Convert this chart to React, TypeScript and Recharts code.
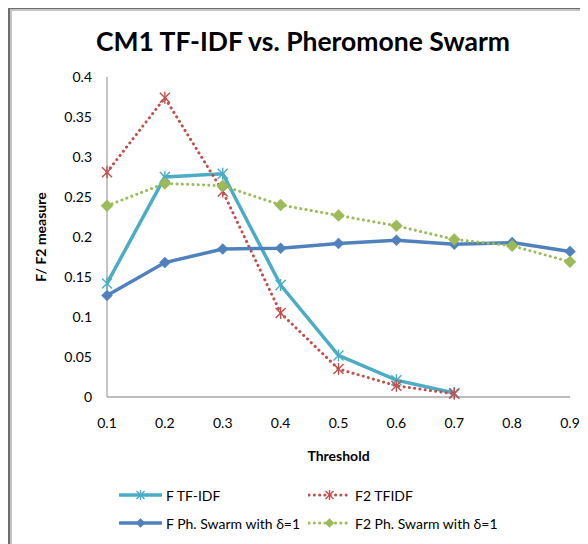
import React from "react";
import { LineChart, Line, XAxis, YAxis, Legend } from "recharts";

const thresholds = ["0.1", "0.2", "0.3", "0.4", "0.5", "0.6", "0.7", "0.8", "0.9"];
const fTfIdf = [0.142, 0.275, 0.279, 0.14, 0.052, 0.021, 0.005, null, null];
const f2Tfidf = [0.281, 0.374, 0.257, 0.105, 0.035, 0.014, 0.004, null, null];
const fPhSwarm = [0.127, 0.168, 0.185, 0.186, 0.192, 0.196, 0.191, 0.193, 0.182];
const f2PhSwarm = [0.239, 0.267, 0.264, 0.24, 0.227, 0.214, 0.197, 0.189, 0.169];
const yTicks = [0, 0.05, 0.1, 0.15, 0.2, 0.25, 0.3, 0.35, 0.4];

const seriesNames = ["F TF-IDF", "F2 TFIDF", "F Ph. Swarm with \u03b4=1", "F2 Ph. Swarm with \u03b4=1"];

const data = thresholds.map((t, i) => ({
  t,
  a: fTfIdf[i],
  b: f2Tfidf[i],
  c: fPhSwarm[i],
  d: f2PhSwarm[i],
}));

const FONT = "Lato, 'Open Sans', sans-serif";
const TEAL = "#4bacc6";
const RED = "#c0504d";
const BLUE = "#4f81bd";
const GREEN = "#9bbb59";

const Star = ({ cx, cy, color, r = 5 }: any) => {
  if (cx == null || cy == null || isNaN(cx) || isNaN(cy)) return null;
  return (
    <g stroke={color} strokeWidth={1.4} fill="none">
      <line x1={cx - r} y1={cy - r} x2={cx + r} y2={cy + r} />
      <line x1={cx - r} y1={cy + r} x2={cx + r} y2={cy - r} />
      <line x1={cx} y1={cy - r - 1} x2={cx} y2={cy + r + 1} />
    </g>
  );
};

const Diamond = ({ cx, cy, color, r = 6 }: any) => {
  if (cx == null || cy == null || isNaN(cx) || isNaN(cy)) return null;
  return (
    <path
      d={`M${cx},${cy - r} L${cx + r},${cy} L${cx},${cy + r} L${cx - r},${cy} Z`}
      fill={color}
      stroke={color}
      strokeWidth={0.5}
    />
  );
};

const starDot = (color: string) => (p: any) => <Star key={`s${color}${p.index}`} cx={p.cx} cy={p.cy} color={color} />;
const diamondDot = (color: string, r: number) => (p: any) => (
  <Diamond key={`d${color}${p.index}`} cx={p.cx} cy={p.cy} color={color} r={r} />
);

const DOTTED = "0.1 5.2";

const legendItems = [
  { name: seriesNames[0], color: TEAL, dotted: false, marker: "star", x: 111, y: 12 },
  { name: seriesNames[1], color: RED, dotted: true, marker: "star", x: 300, y: 12 },
  { name: seriesNames[2], color: BLUE, dotted: false, marker: "diamond", x: 111, y: 40 },
  { name: seriesNames[3], color: GREEN, dotted: true, marker: "diamond", x: 300, y: 40 },
];

const LegendContent = () => (
  <div style={{ position: "relative", width: 580, height: 56, fontFamily: FONT, fontSize: 14, color: "#000" }}>
    {legendItems.map((it) => (
      <div
        key={it.name}
        style={{ position: "absolute", left: it.x, top: it.y - 8, height: 16, display: "flex", alignItems: "center" }}
      >
        <svg width={43} height={16} style={{ display: "block" }}>
          <line
            x1={1}
            y1={8}
            x2={42}
            y2={8}
            stroke={it.color}
            strokeWidth={it.dotted ? 3 : 3.5}
            strokeLinecap="round"
            strokeDasharray={it.dotted ? DOTTED : undefined}
          />
          {it.marker === "star" ? (
            <Star cx={21.5} cy={8} color={it.color} r={4} />
          ) : (
            <Diamond cx={21.5} cy={8} color={it.color} r={4.5} />
          )}
        </svg>
        <span style={{ marginLeft: 4, whiteSpace: "nowrap" }}>{it.name}</span>
      </div>
    ))}
  </div>
);

const YLabel = ({ viewBox }: any) => {
  const x = viewBox.x + 32;
  const y = viewBox.y + viewBox.height / 2;
  return (
    <text
      x={x}
      y={y}
      transform={`rotate(-90 ${x} ${y})`}
      textAnchor="middle"
      dominantBaseline="central"
      fontFamily={FONT}
      fontWeight="bold"
      fontSize={14}
      fill="#000"
    >
      F/ F2 measure
    </text>
  );
};

const XLabel = ({ viewBox }: any) => {
  const x = viewBox.x + viewBox.width / 2;
  const y = viewBox.y + 58;
  return (
    <text x={x} y={y} textAnchor="middle" dominantBaseline="central" fontFamily={FONT} fontWeight="bold" fontSize={14} fill="#000">
      Threshold
    </text>
  );
};

export default function App() {
  return (
    <div style={{ position: "relative", width: 580, height: 536 }}>
      <style>{`body{overflow:hidden}`}</style>
      <div
        style={{
          position: "absolute",
          left: 0,
          top: -1,
          width: 700,
          height: 700,
          borderLeft: "2px solid #6e6e6e",
          borderTop: "2px solid #6e6e6e",
          boxSizing: "border-box",
        }}
      >
        <div
          style={{
            width: "100%",
            height: "100%",
            borderLeft: "2px solid #c4c4c4",
            borderTop: "2px solid #c4c4c4",
            boxSizing: "border-box",
          }}
        />
      </div>
      <div
        style={{
          position: "absolute",
          left: 0,
          width: 590,
          top: 17,
          textAlign: "center",
          fontFamily: FONT,
          fontWeight: "bold",
          fontSize: 26.5,
          color: "#000",
          whiteSpace: "nowrap",
        }}
      >
        CM1 TF-IDF vs. Pheromone Swarm
      </div>
      <div style={{ position: "absolute", left: 0, top: 0 }}>
        <LineChart width={580} height={536} data={data} margin={{ top: 69, right: 18, left: 0, bottom: 77 }}>
          <XAxis
            dataKey="t"
            axisLine={{ stroke: "#a6a6a6", strokeWidth: 1.3 }}
            tickLine={false}
            tickSize={0}
            tickMargin={21}
            height={70}
            interval={0}
            tick={{ fontFamily: FONT, fontSize: 14, fill: "#000" }}
            label={<XLabel />}
          />
          <YAxis
            domain={[0, 0.4]}
            ticks={yTicks}
            width={99}
            axisLine={{ stroke: "#a6a6a6", strokeWidth: 1.3 }}
            tickLine={false}
            tickSize={0}
            tickMargin={15}
            interval={0}
            tickFormatter={(v: number) => String(+v.toFixed(2))}
            tick={{ fontFamily: FONT, fontSize: 14, fill: "#000" }}
            label={<YLabel />}
          />
          <Legend
            layout="vertical"
            verticalAlign="middle"
            align="center"
            wrapperStyle={{ left: 0, top: 475, width: 580 }}
            content={<LegendContent />}
          />
          <Line
            dataKey="a"
            name={seriesNames[0]}
            stroke={TEAL}
            strokeWidth={3.5}
            dot={starDot(TEAL)}
            activeDot={false}
            isAnimationActive={false}
          />
          <Line
            dataKey="b"
            name={seriesNames[1]}
            stroke={RED}
            strokeWidth={3}
            strokeDasharray={DOTTED}
            strokeLinecap="round"
            dot={starDot(RED)}
            activeDot={false}
            isAnimationActive={false}
          />
          <Line
            dataKey="c"
            name={seriesNames[2]}
            stroke={BLUE}
            strokeWidth={3.5}
            dot={diamondDot(BLUE, 5.5)}
            activeDot={false}
            isAnimationActive={false}
          />
          <Line
            dataKey="d"
            name={seriesNames[3]}
            stroke={GREEN}
            strokeWidth={3}
            strokeDasharray={DOTTED}
            strokeLinecap="round"
            dot={diamondDot(GREEN, 6)}
            activeDot={false}
            isAnimationActive={false}
          />
        </LineChart>
      </div>
    </div>
  );
}
